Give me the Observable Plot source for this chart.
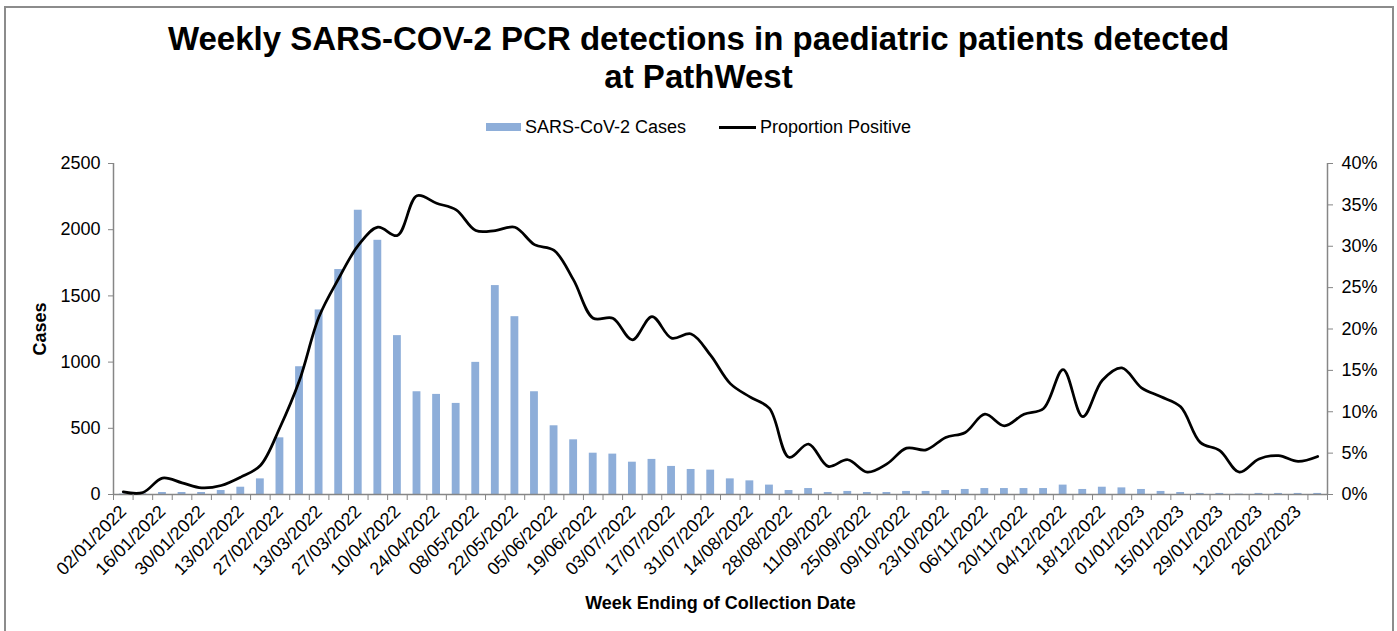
<!DOCTYPE html>
<html>
<head>
<meta charset="utf-8">
<script src="https://cdn.jsdelivr.net/npm/d3@7"></script>
<script src="https://cdn.jsdelivr.net/npm/@observablehq/plot@0.6"></script>
<style>
  body { margin: 0; background: #fff; font-family: "Liberation Sans", Arial, sans-serif; }
  #wrap { position: relative; width: 1397px; height: 631px; overflow: hidden; background: #fff; }
  #frame { position: absolute; left: 4px; top: 6px; width: 1386px; height: 700px; border: 2px solid #8c8c8c; pointer-events: none; }
  #header { position: relative; height: 150px; }
  #title { position: absolute; top: 20px; left: 0; width: 1397px; text-align: center; font-weight: bold; font-size: 33px; line-height: 38px; color: #000; }
  #legend { position: absolute; top: 115px; left: 0; width: 1397px; height: 24px; display: flex; justify-content: center; align-items: center; font-size: 18px; color: #000; }
  .sw-bar { width: 35px; height: 8px; background: #8EAED9; margin-right: 4px; }
  .sw-line { width: 37px; height: 3px; background: #000; margin-right: 4px; margin-left: 33px; }
</style>
</head>
<body>
<div id="wrap">
  <div id="header">
    <div id="title">Weekly SARS-COV-2 PCR detections in paediatric patients detected<br>at PathWest</div>
    <div id="legend">
      <div class="sw-bar"></div><span>SARS-CoV-2 Cases</span>
      <div class="sw-line"></div><span>Proportion Positive</span>
    </div>
  </div>
  <div id="chart"></div>
  <div id="frame"></div>
</div>
<script>
const weeks = [
  "02/01/2022","09/01/2022","16/01/2022","23/01/2022","30/01/2022","06/02/2022","13/02/2022","20/02/2022","27/02/2022",
  "06/03/2022","13/03/2022","20/03/2022","27/03/2022","03/04/2022","10/04/2022","17/04/2022","24/04/2022",
  "01/05/2022","08/05/2022","15/05/2022","22/05/2022","29/05/2022","05/06/2022","12/06/2022","19/06/2022","26/06/2022",
  "03/07/2022","10/07/2022","17/07/2022","24/07/2022","31/07/2022","07/08/2022","14/08/2022","21/08/2022","28/08/2022",
  "04/09/2022","11/09/2022","18/09/2022","25/09/2022","02/10/2022","09/10/2022","16/10/2022","23/10/2022","30/10/2022",
  "06/11/2022","13/11/2022","20/11/2022","27/11/2022","04/12/2022","11/12/2022","18/12/2022","25/12/2022",
  "01/01/2023","08/01/2023","15/01/2023","22/01/2023","29/01/2023","05/02/2023","12/02/2023","19/02/2023","26/02/2023","05/03/2023"
];
const cases = [
  3,5,15,15,15,30,55,118,428,965,
  1394,1699,2147,1920,1200,776,756,688,998,1578,
  1343,776,519,413,312,305,244,265,212,189,
  184,118,103,71,30,45,15,23,15,15,
  23,23,30,38,45,45,45,45,71,38,
  55,50,38,23,15,8,8,3,8,8,
  8,8
];
const proportionPct = [
  0.32,0.24,1.98,1.41,0.8,1.09,2.1,3.5,8.1,13.8,
  21.5,26.1,30.1,32.3,31.3,36.1,35.2,34.4,31.9,31.9,
  32.3,30.2,29.5,25.9,21.3,21.3,18.7,21.5,18.9,19.4,
  16.8,13.4,11.8,10.4,4.5,6.1,3.4,4.2,2.7,3.7,
  5.6,5.4,6.9,7.5,9.7,8.3,9.7,10.4,15.1,9.4,
  13.8,15.3,12.9,11.8,10.6,6.3,5.3,2.7,4.3,4.7,
  4.0,4.6
];
const caseTicks = [0, 500, 1000, 1500, 2000, 2500];
const pctTicks = [0, 5, 10, 15, 20, 25, 30, 35, 40];
const caseMax = 2500, pctMax = 40;

const rows = weeks.map((w, i) => ({i, week: w, cases: cases[i], pct: proportionPct[i]}));
const labelIdx = weeks.map((w, i) => i).filter(i => i % 2 === 0);
const toCases = p => p * caseMax / pctMax;
const grey = "#868686";

const chart = Plot.plot({
  width: 1397,
  height: 481,
  marginTop: 13,
  marginBottom: 137,
  marginLeft: 113,
  marginRight: 70,
  x: {type: "linear", domain: [0, weeks.length]},
  y: {domain: [0, caseMax]},
  style: {fontFamily: "'Liberation Sans', Arial, sans-serif", fontSize: "18px", color: "#000", background: "transparent", overflow: "visible"},
  marks: [
    Plot.rectY(rows, {x1: d => d.i + 0.3, x2: d => d.i + 0.7, y: "cases", fill: "#8EAED9"}),
    Plot.ruleY([0], {stroke: grey, strokeWidth: 1.5}),
    Plot.ruleX([0, weeks.length], {stroke: grey, strokeWidth: 1.5}),
    Plot.line(rows, {x: d => d.i + 0.5, y: d => toCases(d.pct), curve: "catmull-rom", stroke: "#000", strokeWidth: 2.75}),
    Plot.axisY(caseTicks, {anchor: "left", tickSize: 5, tickPadding: 8, stroke: grey, fill: "#000", label: null,
      tickFormat: v => String(v)}),
    Plot.axisY(pctTicks.map(toCases), {anchor: "right", tickSize: 5, tickPadding: 9, stroke: grey, fill: "#000", label: null,
      tickFormat: v => `${Math.round(v * pctMax / caseMax)}%`}),
    Plot.axisX(d3.range(0, weeks.length + 1), {anchor: "bottom", tickSize: 6, stroke: grey, tickFormat: () => "", label: null}),
    Plot.axisX(labelIdx.map(i => i + 0.5), {anchor: "bottom", tickSize: 0, tickRotate: -45, tickPadding: 14, fill: "#000",
      tickFormat: v => weeks[Math.round(v - 0.5)], label: null}),
    Plot.axisX([], {anchor: "bottom", label: "Week Ending of Collection Date", labelAnchor: "center", labelArrow: "none", labelOffset: 114, fontWeight: "bold", fill: "#000"}),
    Plot.axisY([], {anchor: "left", label: "Cases", labelAnchor: "center", labelArrow: "none", labelOffset: 80, fontWeight: "bold", fill: "#000"})
  ]
});
document.getElementById("chart").appendChild(chart);
</script>
</body>
</html>
